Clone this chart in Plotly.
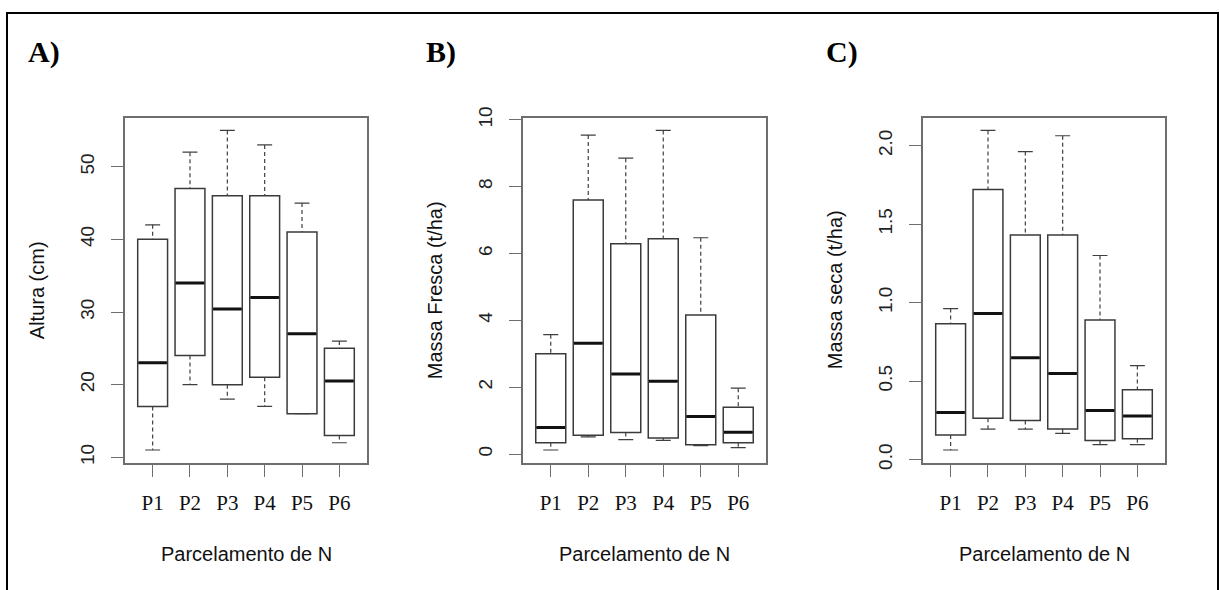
import plotly.graph_objects as go

# ---------------- data ----------------
groups = ["P1", "P2", "P3", "P4", "P5", "P6"]

# A) Altura (cm)
alt_min = [11, 20, 18, 17, 16, 12]
alt_q1 = [17, 24, 20, 21, 16, 13]
alt_med = [23, 34, 30.4, 32, 27, 20.5]
alt_q3 = [40, 47, 46, 46, 41, 25]
alt_max = [42, 52, 55, 53, 45, 26]

# B) Massa Fresca (t/ha)
mf_min = [0.12, 0.51, 0.43, 0.41, 0.25, 0.19]
mf_q1 = [0.34, 0.56, 0.64, 0.48, 0.28, 0.34]
mf_med = [0.79, 3.31, 2.39, 2.18, 1.12, 0.65]
mf_q3 = [3.0, 7.60, 6.29, 6.44, 4.16, 1.40]
mf_max = [3.57, 9.54, 8.85, 9.68, 6.47, 1.97]

# C) Massa seca (t/ha)
ms_min = [0.061, 0.194, 0.194, 0.167, 0.095, 0.095]
ms_q1 = [0.156, 0.264, 0.249, 0.194, 0.122, 0.133]
ms_med = [0.30, 0.93, 0.648, 0.549, 0.312, 0.278]
ms_q3 = [0.865, 1.72, 1.43, 1.43, 0.89, 0.445]
ms_max = [0.962, 2.097, 1.962, 2.063, 1.30, 0.599]

ytick_A = [10, 20, 30, 40, 50]
ytick_B = [0, 2, 4, 6, 8, 10]
ytick_C = [0, 0.5, 1.0, 1.5, 2.0]
ytext_C = ["0.0", "0.5", "1.0", "1.5", "2.0"]

panel_letters = ["A)", "B)", "C)"]
ytitles = ["Altura (cm)", "Massa Fresca (t/ha)", "Massa seca (t/ha)"]
xtitle = "Parcelamento de N"

# ---------------- layout helpers ----------------
W, H = 1219, 590
frames_px = [(125, 367), (523, 766), (923, 1165)]
ytop_px, ybot_px = 110, 466
ydom = [(H - ybot_px) / H, (H - ytop_px) / H]
letter_y = 42
xtitle_y = 560
border_top = 2

SANS = "Liberation Sans, Arial, sans-serif"
SERIF = "Liberation Serif, Times New Roman, serif"

FRAME_C = "#6e6e6e"
BOX_C = "#3a3a3a"
MED_C = "#111111"
WH_C = "#3f3f3f"
BOXW = 0.8
CAPW = 0.4

fig = go.Figure()

panels = [
    (alt_min, alt_q1, alt_med, alt_q3, alt_max, ytick_A, [str(v) for v in ytick_A]),
    (mf_min, mf_q1, mf_med, mf_q3, mf_max, ytick_B, [str(v) for v in ytick_B]),
    (ms_min, ms_q1, ms_med, ms_q3, ms_max, ytick_C, ytext_C),
]

xpos = list(range(1, len(groups) + 1))

for k, (mn, q1, md, q3, mx, tv, tt) in enumerate(panels):
    suf = "" if k == 0 else str(k + 1)
    xa, ya = "x" + suf, "y" + suf

    # boxes (no plotly whiskers; drawn separately dashed like R)
    fig.add_trace(go.Box(
        x=xpos, q1=q1, median=md, q3=q3, lowerfence=q1, upperfence=q3,
        width=BOXW, whiskerwidth=0, fillcolor="white",
        line=dict(color=BOX_C, width=1.5), boxpoints=False,
        xaxis=xa, yaxis=ya, showlegend=False, hoverinfo="skip",
    ))

    # thick medians
    mx_x, mx_y = [], []
    for i, m in zip(xpos, md):
        mx_x += [i - BOXW / 2 + 0.02, i + BOXW / 2 - 0.02, None]
        mx_y += [m, m, None]
    fig.add_trace(go.Scatter(x=mx_x, y=mx_y, mode="lines",
                             line=dict(color=MED_C, width=3),
                             xaxis=xa, yaxis=ya, showlegend=False, hoverinfo="skip"))

    # dashed whiskers
    wx, wy = [], []
    for i, a, b, c, d in zip(xpos, mn, q1, q3, mx):
        wx += [i, i, None, i, i, None]
        wy += [d, c, None, b, a, None]
    fig.add_trace(go.Scatter(x=wx, y=wy, mode="lines",
                             line=dict(color=WH_C, width=1.2, dash="4px,3px"),
                             xaxis=xa, yaxis=ya, showlegend=False, hoverinfo="skip"))

    # staples (caps)
    cx, cy = [], []
    for i, a, d in zip(xpos, mn, mx):
        cx += [i - CAPW / 2, i + CAPW / 2, None, i - CAPW / 2, i + CAPW / 2, None]
        cy += [d, d, None, a, a, None]
    fig.add_trace(go.Scatter(x=cx, y=cy, mode="lines",
                             line=dict(color=WH_C, width=1.2),
                             xaxis=xa, yaxis=ya, showlegend=False, hoverinfo="skip"))

    # ranges as R: 4% extension
    lo, hi = min(mn), max(mx)
    ext = (hi - lo) * 0.04
    yr = [lo - ext, hi + ext]

    x0p, x1p = frames_px[k]
    xaxis = dict(
        domain=[x0p / W, x1p / W], range=[0.26, len(groups) + 0.74],
        tickvals=xpos, ticktext=groups, ticks="outside", ticklen=12,
        tickcolor=FRAME_C, tickwidth=1.2,
        showline=True, mirror=True, linecolor=FRAME_C, linewidth=1.5,
        showgrid=False, zeroline=False, anchor=ya,
        tickfont=dict(family=SERIF, size=21, color="#111111"),
        ticklabelstandoff=8,
        fixedrange=True,
    )
    yaxis = dict(
        domain=ydom, range=yr, tickvals=tv, ticktext=tt,
        ticks="outside", ticklen=12, tickcolor=FRAME_C, tickwidth=1.2,
        tickangle=-90, ticklabelstandoff=10,
        showline=True, mirror=True, linecolor=FRAME_C, linewidth=1.5,
        showgrid=False, zeroline=False, anchor=xa,
        tickfont=dict(family=SANS, size=19, color="#222222"),
        fixedrange=True,
    )
    fig.update_layout(**{"xaxis" + suf: xaxis, "yaxis" + suf: yaxis})

    # panel letters
    fig.add_annotation(text="<b>" + panel_letters[k] + "</b>", xref="paper", yref="paper",
                       x=(x0p - 99) / W, y=(H - letter_y) / H, xanchor="left", yanchor="middle",
                       showarrow=False, font=dict(family=SERIF, size=30, color="#000000"))
    # y titles
    fig.add_annotation(text=ytitles[k], xref="paper", yref="paper",
                       x=(x0p - 88) / W, y=(H - (ytop_px + ybot_px) / 2) / H,
                       xanchor="center", yanchor="middle", textangle=-90,
                       showarrow=False, font=dict(family=SANS, size=20, color="#111111"))
    # x titles
    fig.add_annotation(text=xtitle, xref="paper", yref="paper",
                       x=(x0p + x1p) / 2 / W, y=(H - xtitle_y) / H,
                       xanchor="center", yanchor="middle",
                       showarrow=False, font=dict(family=SANS, size=20, color="#111111"))

# outer border (bottom edge lies outside the picture)
fig.add_shape(type="rect", xref="paper", yref="paper",
              x0=7 / W, x1=1218 / W, y0=-0.2, y1=(H - border_top) / H,
              line=dict(color="#000000", width=2), fillcolor="rgba(0,0,0,0)")

fig.update_layout(
    width=W, height=H, margin=dict(l=0, r=0, t=0, b=0),
    paper_bgcolor="white", plot_bgcolor="white", showlegend=False,
)

fig.write_html(
    "out.html",
    config={"displayModeBar": False},
    post_script=(
        "document.documentElement.style.margin='0';"
        "document.body.style.margin='0';document.body.style.overflow='hidden';"
        "var d=document.getElementById('{plot_id}');"
        "d.style.position='fixed';d.style.top='0px';d.style.left='0px';"
    ),
)
